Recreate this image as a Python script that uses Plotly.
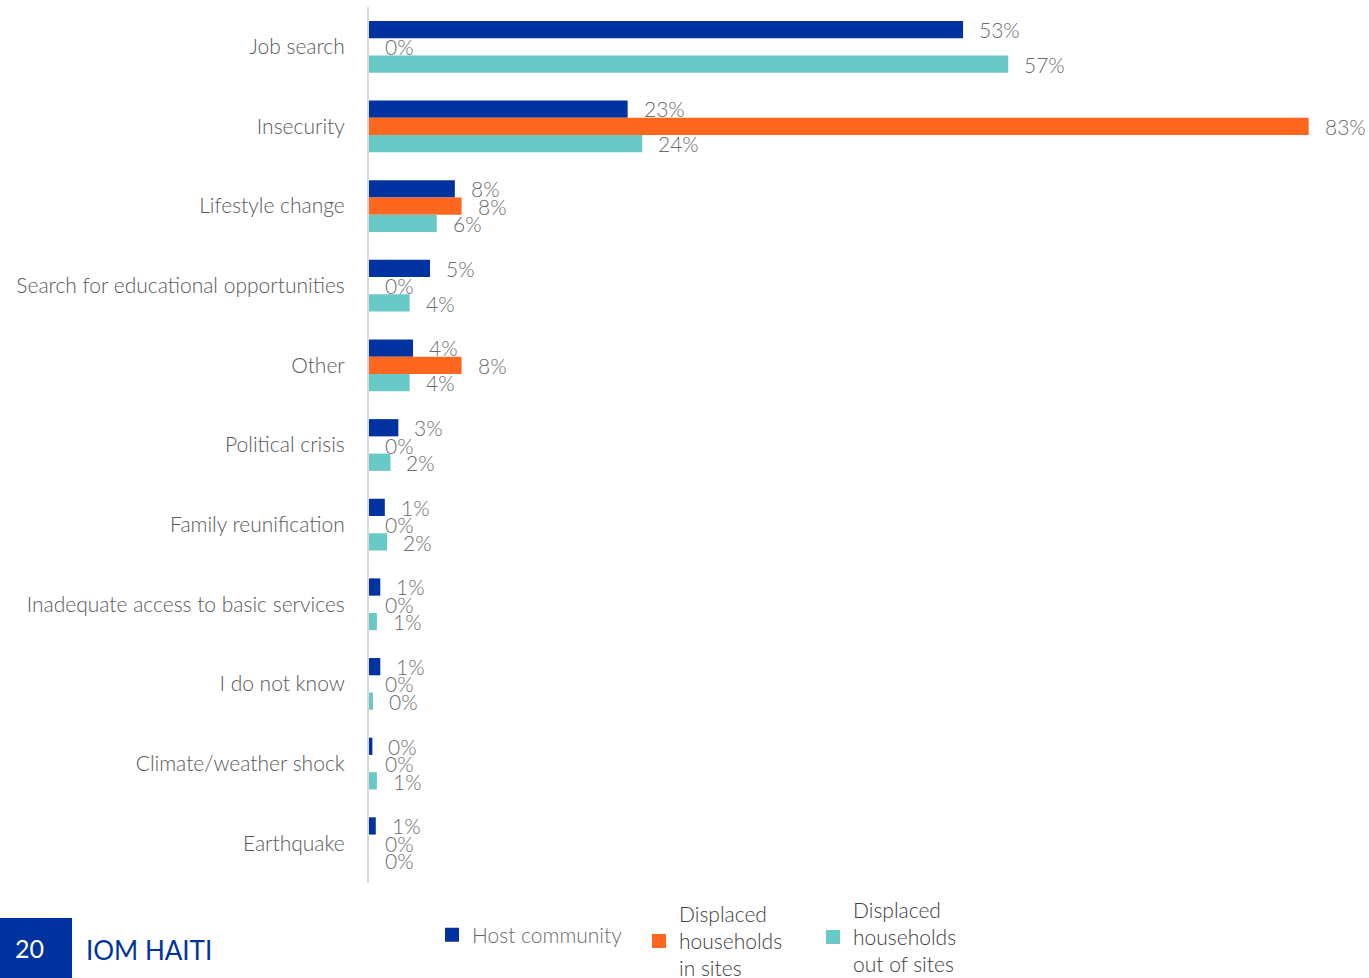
import plotly.graph_objects as go

# Reasons for leaving, by population group (% of households)
categories = [
    "Job search",
    "Insecurity",
    "Lifestyle change",
    "Search for educational opportunities",
    "Other",
    "Political crisis",
    "Family reunification",
    "Inadequate access to basic services",
    "I do not know",
    "Climate/weather shock",
    "Earthquake",
]
host_community = [52.6, 22.9, 7.6, 5.4, 3.9, 2.6, 1.4, 1.0, 1.0, 0.3, 0.6]
displaced_in_sites = [0.0, 83.2, 8.2, 0.0, 8.2, 0.0, 0.0, 0.0, 0.0, 0.0, 0.0]
displaced_out_of_sites = [56.6, 24.2, 6.0, 3.6, 3.6, 1.9, 1.6, 0.7, 0.35, 0.7, 0.0]

series_names = [
    "Host community",
    "Displaced<br>households<br>in sites",
    "Displaced<br>households<br>out of sites",
]
series_values = [host_community, displaced_in_sites, displaced_out_of_sites]
colors = ["#0033A0", "#FF671F", "#68C9C7"]

FONT = "Lato"
TEXT_GREY = "#6b6b6b"

fig = go.Figure()
legend_ids = ["legend", "legend2", "legend3"]
for name, vals, col, lg in zip(series_names, series_values, colors, legend_ids):
    fig.add_trace(
        go.Bar(
            y=categories,
            x=vals,
            name=name,
            orientation="h",
            marker=dict(color=col, line=dict(width=0)),
            showlegend=False,
            legendgroup=lg,
            hoverinfo="skip",
        )
    )
    # square legend key for the series
    fig.add_trace(
        go.Scatter(
            x=[None], y=[None], mode="markers", name=name,
            marker=dict(symbol="square", size=14, color=col),
            legend=lg, legendgroup=lg, hoverinfo="skip",
        )
    )

# Value labels next to each bar
bar_shift = [17.5, 0, -17.5]
for vals, dy in zip(series_values, bar_shift):
    for cat, v in zip(categories, vals):
        fig.add_annotation(
            x=v, y=cat, xref="x", yref="y",
            text=f"{v:.0f}%",
            showarrow=False,
            xanchor="left", yanchor="middle",
            xshift=14, yshift=dy,
            font=dict(family=FONT, size=21, color=TEXT_GREY, weight=300),
        )

legend_common = dict(
    orientation="h",
    xref="container", yref="container",
    yanchor="middle", xanchor="left",
    bgcolor="rgba(0,0,0,0)",
    font=dict(family=FONT, size=21, color="#404040", weight=300),
    itemwidth=30,
    itemsizing="trace",
    valign="middle",
)

fig.update_layout(
    width=1369, height=978,
    margin=dict(l=369, r=40, t=7, b=95),
    paper_bgcolor="white", plot_bgcolor="white",
    barmode="group",
    bargap=0.35, bargroupgap=0,
    xaxis=dict(range=[0, 85], visible=False, fixedrange=True),
    yaxis=dict(
        autorange="reversed",
        showline=True, linecolor="#d9d9d9", linewidth=2,
        showgrid=False, ticks="",
        ticklabelstandoff=18,
        tickfont=dict(family=FONT, size=21, color="#595959", weight=300),
        fixedrange=True,
    ),
    legend=dict(legend_common, x=432 / 1369, y=1 - 935 / 978,
                font=dict(family=FONT, size=21, color="#6b6b6b", weight=300)),
    legend2=dict(legend_common, x=639 / 1369, y=1 - 941 / 978),
    legend3=dict(legend_common, x=813 / 1369, y=1 - 937 / 978),
    showlegend=True,
)

# Page footer: page number block and publisher mark
fig.add_shape(type="rect", xref="paper", yref="paper",
              x0=-369 / 960, x1=(72 - 369) / 960,
              y0=-95 / 876, y1=(883 - 918) / 876,
              fillcolor="#0033A0", line=dict(width=0), layer="above")
fig.add_annotation(
    xref="paper", yref="paper", x=(29 - 369) / 960, y=-(948 - 883) / 876,
    text="20", showarrow=False, xanchor="center", yanchor="middle",
    font=dict(family=FONT, size=25, color="white"),
)
fig.add_annotation(
    xref="paper", yref="paper", x=(84 - 369) / 960, y=-(950 - 883) / 876,
    text="IOM HAITI", showarrow=False, xanchor="left", yanchor="middle",
    font=dict(family=FONT, size=26, color="#0033A0"),
)

fig.write_html("out.html")
